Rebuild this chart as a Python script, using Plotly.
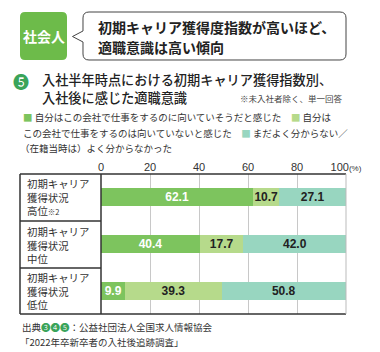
import plotly.graph_objects as go

# ---- data ----
categories = ["高位", "中位", "低位"]
row_labels = ["初期キャリア<br>獲得状況<br>高位<span style='font-size:7.5px'>※2</span>",
              "初期キャリア<br>獲得状況<br>中位",
              "初期キャリア<br>獲得状況<br>低位"]
series_names = ["自分はこの会社で仕事をするのに向いていそうだと感じた",
                "自分はこの会社で仕事をするのは向いていないと感じた",
                "まだよく分からない／（在籍当時は）よく分からなかった"]
suited = [62.1, 40.4, 9.9]
not_suited = [10.7, 17.7, 39.3]
unknown = [27.1, 42.0, 50.8]
tick_vals = [0, 20, 40, 60, 80, 100]
tick_text = ["0", "20", "40", "60", "80", "100<span style='font-size:8px'>(%)</span>"]

colors = ["#7dc45e", "#b6da8b", "#98d6c0"]
text_colors = ["#ffffff", "#222222", "#222222"]

W, H = 380, 352
L, R, T, B = 101, 34, 174, 38
PW, PH = W - L - R, H - T - B

def px(x, y):
    return (x - L) / PW, (H - B - y) / PH

JP = "Noto Sans CJK JP"
LAT = "Liberation Sans"

fig = go.Figure()
for vals, name, c, tc in zip([suited, not_suited, unknown], series_names, colors, text_colors):
    fig.add_trace(go.Bar(
        y=categories, x=vals, name=name, orientation="h",
        marker=dict(color=c, line=dict(width=0)), width=0.39,
        text=vals, texttemplate="<b>%{x:.1f}</b>", textposition="inside",
        insidetextanchor="middle",
        textfont=dict(family=LAT, size=12, color=tc),
        hoverinfo="skip",
    ))

shapes = []
def line(x0, y0, x1, y1, color="#333333", w=1.5):
    a, b = px(x0, y0)
    c, d = px(x1, y1)
    shapes.append(dict(type="line", xref="paper", yref="paper", x0=a, y0=b, x1=c, y1=d,
                       line=dict(color=color, width=w), layer="above"))

# table lines
line(20, 174, 346, 174)
line(20, 314, 346, 314)
line(20, 174, 20, 314)
line(101, 174, 101, 314)
line(20, 221, 101, 221)
line(20, 268, 101, 268)
line(346, 174, 346, 314, color="#bbbbbb", w=1)

def rrect_path(x0, y0, x1, y1, r, pointer=None):
    def P(x, y):
        a, b = px(x, y)
        return f"{a:.5f},{b:.5f}"
    d = f"M{P(x0 + r, y0)} L{P(x1 - r, y0)} Q{P(x1, y0)} {P(x1, y0 + r)} L{P(x1, y1 - r)} Q{P(x1, y1)} {P(x1 - r, y1)} L{P(x0 + r, y1)} Q{P(x0, y1)} {P(x0, y1 - r)}"
    if pointer:
        ya, tx, ty, yb = pointer
        d += f" L{P(x0, yb)} L{P(tx, ty)} L{P(x0, ya)}"
    d += f" L{P(x0, y0 + r)} Q{P(x0, y0)} {P(x0 + r, y0)} Z"
    return d

shapes.append(dict(type="path", xref="paper", yref="paper", path=rrect_path(20, 12, 67, 60, 5),
                   fillcolor="#6dbb4a", line=dict(width=0), layer="above"))
shapes.append(dict(type="path", xref="paper", yref="paper",
                   path=rrect_path(83, 12, 346, 60, 6, pointer=(31, 72.5, 36.5, 42)),
                   fillcolor="#ffffff", line=dict(color="#444444", width=1), layer="above"))

annotations = []
def ann(text, x, y, size, color="#333333", family=JP, xanchor="left", yanchor="middle",
        weight=None, align="left"):
    a, b = px(x, y)
    f = dict(family=family, size=size, color=color)
    if weight:
        f["weight"] = weight
    annotations.append(dict(text=text, x=a, y=b, xref="paper", yref="paper",
                            xanchor=xanchor, yanchor=yanchor, showarrow=False, align=align,
                            font=f))

ann("<b>社会人</b>", 44, 36, 14, "#ffffff", xanchor="center")
ann("<b>初期キャリア獲得度指数が高いほど、</b>", 96, 27, 14, "#222222")
ann("<b>適職意識は高い傾向</b>", 96, 47, 14, "#222222")
ann("❺", 31, 81, 16, "#3aa45a", xanchor="right")
ann("入社半年時点における初期キャリア獲得指数別、", 40, 79, 13.2, "#222222", weight=500)
ann("入社後に感じた適職意識", 40, 98, 13.2, "#222222", weight=500)
ann("※未入社者除く、単一回答", 345, 98, 8.5, "#444444", xanchor="right")

sq = "<span style='color:%s'>■</span>"
ann(sq % colors[0] + " " + series_names[0] + "　" + sq % colors[1] + " 自分は", 21, 117, 9.5)
ann("この会社で仕事をするのは向いていないと感じた　" + sq % colors[2] + " まだよく分からない／", 21, 133, 9.5)
ann("（在籍当時は）よく分からなかった", 18, 148, 9.5)

row_centers = [197, 244.5, 291]
for rc, t in zip(row_centers, row_labels):
    ann(t, 25, rc, 10.4, "#333333")

ann("出典<span style='color:#3aa45a'>❸❹❺</span>：公益社団法人全国求人情報協会", 20, 327, 9.5)
ann("「2022年卒新卒者の入社後追跡調査」", 18, 342, 9.5)

fig.update_layout(
    width=W, height=H, margin=dict(l=L, r=R, t=T, b=B, pad=0),
    barmode="stack", showlegend=False,
    paper_bgcolor="#ffffff", plot_bgcolor="#ffffff",
    uniformtext=dict(minsize=12, mode="show"),
    shapes=shapes, annotations=annotations,
    xaxis=dict(range=[0, 100], side="top", tickvals=tick_vals, ticktext=tick_text,
               showgrid=True, gridcolor="#c8c8c8", gridwidth=1, zeroline=False,
               showline=False, ticks="", fixedrange=True,
               tickfont=dict(family=LAT, size=11, color="#333333")),
    yaxis=dict(categoryorder="array", categoryarray=categories, range=[2.5, -0.5],
               showticklabels=False, showgrid=False, zeroline=False, ticks="", fixedrange=True),
)

fig.write_html("out.html")
